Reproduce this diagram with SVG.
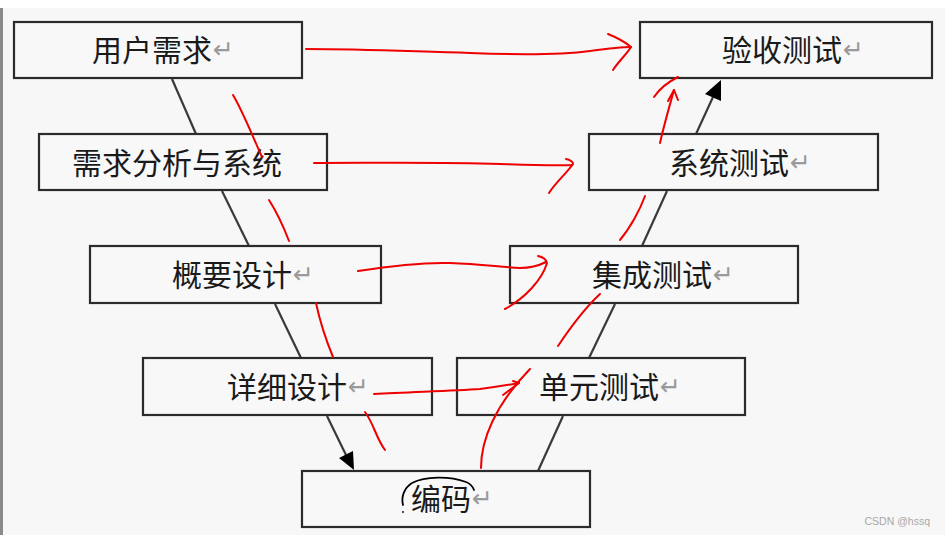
<svg xmlns="http://www.w3.org/2000/svg" width="945" height="535" viewBox="0 0 945 535">
<defs>
<style>
.box{fill:#f8f8f8;stroke:#2b2b2b;stroke-width:2.2}
.lbl{font-family:"Noto Sans CJK SC","Noto Sans CJK JP",sans-serif;font-size:30px;fill:#1a1a1a}
.ret{font-family:"DejaVu Sans",sans-serif;font-size:25px;fill:#9a9a9a}
.conn{stroke:#3a3a3a;stroke-width:2.2;fill:none}
.head{fill:#000}
.red{stroke:#ee0000;stroke-width:2;fill:none;stroke-linecap:round;stroke-linejoin:round}
</style>
</defs>
<rect x="0" y="0" width="945" height="535" fill="#ffffff"/>
<rect x="0" y="8" width="945" height="527" fill="#f7f7f7"/>
<line x1="1.5" y1="8" x2="1.5" y2="535" stroke="#8a8a8a" stroke-width="3"/>

<g id="connectors">
<line class="conn" x1="172" y1="79" x2="196" y2="134"/>
<line class="conn" x1="222" y1="191" x2="249" y2="246"/>
<line class="conn" x1="275" y1="304" x2="301" y2="358"/>
<line class="conn" x1="327" y1="416" x2="346" y2="455"/>
<polygon class="head" points="354,470 339,458 353,451"/>
<line class="conn" x1="538" y1="471" x2="563" y2="416"/>
<line class="conn" x1="589" y1="358" x2="615" y2="304"/>
<line class="conn" x1="642" y1="246" x2="667" y2="191"/>
<line class="conn" x1="696" y1="134" x2="713" y2="97"/>
<polygon class="head" points="721,80 705,94 721,101"/>
</g>

<g id="n1"><rect class="box" x="14" y="22" width="288" height="56"/><text class="lbl" x="92" y="61">用户需求<tspan class="ret" dx="1" dy="-3">↵</tspan></text></g>
<g id="n2"><rect class="box" x="39" y="134" width="288" height="56"/><text class="lbl" x="72" y="174">需求分析与系统</text></g>
<g id="n3"><rect class="box" x="90" y="246" width="291" height="57"/><text class="lbl" x="172" y="286">概要设计<tspan class="ret" dx="1" dy="-3">↵</tspan></text></g>
<g id="n4"><rect class="box" x="143" y="358" width="289" height="57"/><text class="lbl" x="227" y="398">详细设计<tspan class="ret" dx="1" dy="-3">↵</tspan></text></g>
<g id="n5"><rect class="box" x="302" y="471" width="288" height="56"/><text class="lbl" x="411" y="510">编码<tspan class="ret" dx="1" dy="-3">↵</tspan></text></g>
<g id="n6"><rect class="box" x="457" y="358" width="288" height="57"/><text class="lbl" x="539" y="398">单元测试<tspan class="ret" dx="1" dy="-3">↵</tspan></text></g>
<g id="n7"><rect class="box" x="510" y="246" width="288" height="57"/><text class="lbl" x="592" y="286">集成测试<tspan class="ret" dx="1" dy="-3">↵</tspan></text></g>
<g id="n8"><rect class="box" x="589" y="134" width="289" height="56"/><text class="lbl" x="669" y="174">系统测试<tspan class="ret" dx="1" dy="-3">↵</tspan></text></g>
<g id="n9"><rect class="box" x="640" y="22" width="292" height="56"/><text class="lbl" x="722" y="61">验收测试<tspan class="ret" dx="1" dy="-3">↵</tspan></text></g>

<g id="annotations">
<path class="red" d="M306,49 C360,49 400,51 470,53 C520,55 560,55 590,51 C605,49 620,47 631,47"/>
<path class="red" d="M608,34 C618,38 625,42 631,47 C626,55 618,62 613,70"/>
<path class="red" d="M314,163 C380,163 440,162 500,164 C530,165 555,166 572,165"/>
<path class="red" d="M566,159 C570,160 573,162 573,164 C566,174 556,182 549,193"/>
<path class="red" d="M358,271 C390,266 420,262 450,263 C480,264 500,267 520,268 C532,268 540,265 546,262"/>
<path class="red" d="M538,256 C543,257 546,259 547,263 C542,280 525,298 505,309"/>
<path class="red" d="M374,394 C410,392 450,391 480,389 C495,387 508,385 519,383"/>
<path class="red" d="M513,381 L519,383 L503,395"/>
<path class="red" d="M481,468 C481,440 495,405 530,369"/>
<path class="red" d="M558,346 C570,328 585,308 600,294"/>
<path class="red" d="M620,240 C630,228 640,210 645,196"/>
<path class="red" d="M660,143 C664,125 669,108 674,90"/>
<path class="red" d="M668,101 L674,90 L678,100"/>
<path class="red" d="M654,97 C660,88 668,82 678,77"/>
<path class="red" d="M233,95 C242,110 250,130 262,157"/>
<path class="red" d="M269,200 C278,214 284,228 289,241"/>
<path class="red" d="M316,303 C320,322 326,340 333,357"/>
<path class="red" d="M365,412 C374,424 376,438 385,450"/>
<path d="M403,505 C401,497 404,488 412,483 C425,476 450,476 466,482 C471,484 473,487 474,490" fill="none" stroke="#000" stroke-width="1.8" stroke-linecap="round"/>
<circle cx="403" cy="512" r="0.9" fill="#000"/>
</g>

<text x="930" y="525" text-anchor="end" font-family="'Liberation Sans',Arial,sans-serif" font-size="10.5" fill="#a8a8a8">CSDN @hssq</text>
</svg>
